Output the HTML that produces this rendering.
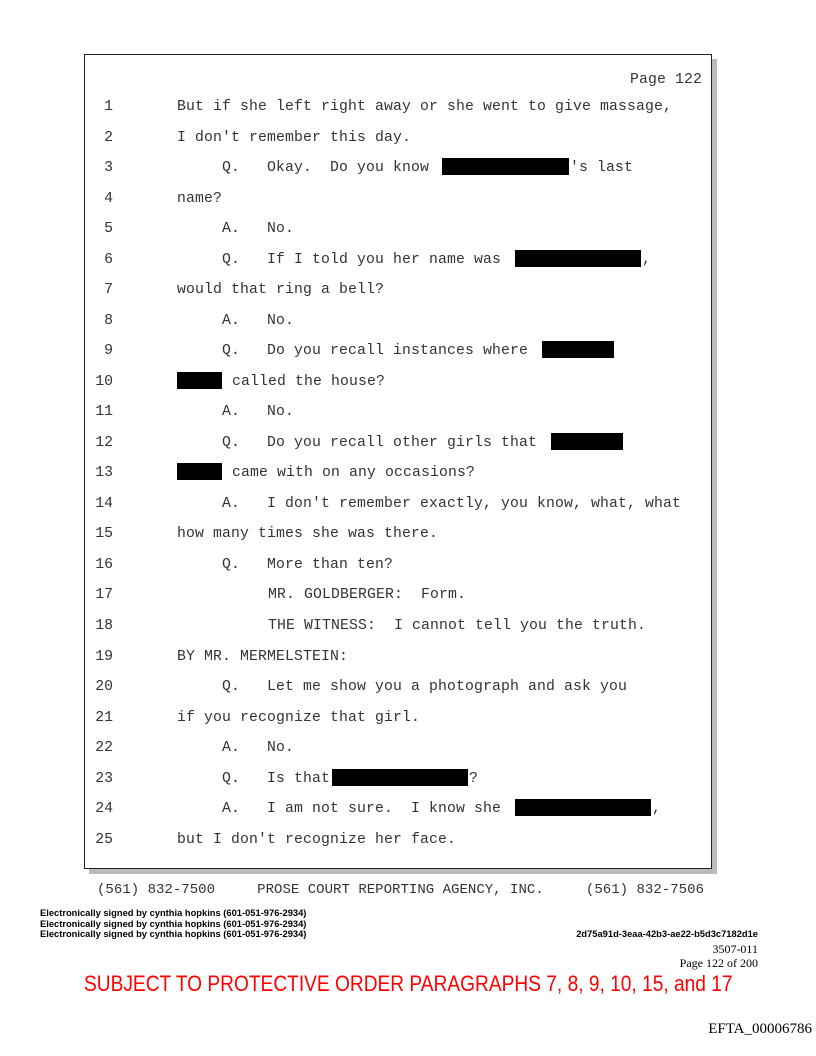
<!DOCTYPE html>
<html><head><meta charset="utf-8">
<style>
body{margin:0;width:816px;height:1056px;background:#fff;position:relative;overflow:hidden;font-family:"Liberation Mono",monospace;}
.box{position:absolute;left:84px;top:54px;width:626px;height:813px;border:1px solid #222;background:#fff;box-shadow:5px 5px 0 #bbb;}
.l{position:absolute;font-size:14.8px;letter-spacing:0.12px;line-height:20px;color:#333;white-space:pre;margin-top:1px;}
.n{position:absolute;width:28px;text-align:right;left:85px;font-size:14.8px;line-height:20px;color:#333;margin-top:1px;}
.r{position:absolute;background:#000;height:17px;}
.s{position:absolute;font-family:"Liberation Sans",sans-serif;font-weight:bold;font-size:9.35px;color:#000;left:40px;white-space:nowrap;}
</style></head><body>
<div class="box"></div>
<div class="l" style="left:630px;top:69px;">Page 122</div>

<div class="n" style="top:96px">1</div><div class="l" style="left:177px;top:96px">But if she left right away or she went to give massage,</div>
<div class="n" style="top:127px">2</div><div class="l" style="left:177px;top:127px">I don't remember this day.</div>
<div class="n" style="top:157px">3</div><div class="l" style="left:222px;top:157px">Q.   Okay.  Do you know</div><div class="l" style="left:570px;top:157px">'s last</div>
<div class="r" style="left:442px;top:158px;width:127px"></div>
<div class="n" style="top:188px">4</div><div class="l" style="left:177px;top:188px">name?</div>
<div class="n" style="top:218px">5</div><div class="l" style="left:222px;top:218px">A.   No.</div>
<div class="n" style="top:249px">6</div><div class="l" style="left:222px;top:249px">Q.   If I told you her name was</div><div class="l" style="left:642px;top:249px">,</div>
<div class="r" style="left:515px;top:250px;width:126px"></div>
<div class="n" style="top:279px">7</div><div class="l" style="left:177px;top:279px">would that ring a bell?</div>
<div class="n" style="top:310px">8</div><div class="l" style="left:222px;top:310px">A.   No.</div>
<div class="n" style="top:340px">9</div><div class="l" style="left:222px;top:340px">Q.   Do you recall instances where</div>
<div class="r" style="left:542px;top:341px;width:72px"></div>
<div class="n" style="top:371px">10</div><div class="l" style="left:232px;top:371px">called the house?</div>
<div class="r" style="left:177px;top:372px;width:45px"></div>
<div class="n" style="top:401px">11</div><div class="l" style="left:222px;top:401px">A.   No.</div>
<div class="n" style="top:432px">12</div><div class="l" style="left:222px;top:432px">Q.   Do you recall other girls that</div>
<div class="r" style="left:551px;top:433px;width:72px"></div>
<div class="n" style="top:462px">13</div><div class="l" style="left:232px;top:462px">came with on any occasions?</div>
<div class="r" style="left:177px;top:463px;width:45px"></div>
<div class="n" style="top:493px">14</div><div class="l" style="left:222px;top:493px">A.   I don't remember exactly, you know, what, what</div>
<div class="n" style="top:523px">15</div><div class="l" style="left:177px;top:523px">how many times she was there.</div>
<div class="n" style="top:554px">16</div><div class="l" style="left:222px;top:554px">Q.   More than ten?</div>
<div class="n" style="top:584px">17</div><div class="l" style="left:268px;top:584px">MR. GOLDBERGER:  Form.</div>
<div class="n" style="top:615px">18</div><div class="l" style="left:268px;top:615px">THE WITNESS:  I cannot tell you the truth.</div>
<div class="n" style="top:646px">19</div><div class="l" style="left:177px;top:646px">BY MR. MERMELSTEIN:</div>
<div class="n" style="top:676px">20</div><div class="l" style="left:222px;top:676px">Q.   Let me show you a photograph and ask you</div>
<div class="n" style="top:707px">21</div><div class="l" style="left:177px;top:707px">if you recognize that girl.</div>
<div class="n" style="top:737px">22</div><div class="l" style="left:222px;top:737px">A.   No.</div>
<div class="n" style="top:768px">23</div><div class="l" style="left:222px;top:768px">Q.   Is that</div><div class="l" style="left:469px;top:768px">?</div>
<div class="r" style="left:332px;top:769px;width:136px"></div>
<div class="n" style="top:798px">24</div><div class="l" style="left:222px;top:798px">A.   I am not sure.  I know she</div><div class="l" style="left:652px;top:798px">,</div>
<div class="r" style="left:515px;top:799px;width:136px"></div>
<div class="n" style="top:829px">25</div><div class="l" style="left:177px;top:829px">but I don't recognize her face.</div>

<div class="l" style="left:97px;top:879px;font-size:14.05px;letter-spacing:0;color:#333">(561) 832-7500     PROSE COURT REPORTING AGENCY, INC.     (561) 832-7506</div>

<div class="s" style="top:908px">Electronically signed by cynthia hopkins (601-051-976-2934)</div>
<div class="s" style="top:919px">Electronically signed by cynthia hopkins (601-051-976-2934)</div>
<div class="s" style="top:929px">Electronically signed by cynthia hopkins (601-051-976-2934)</div>
<div class="s" style="left:auto;right:58px;top:929px">2d75a91d-3eaa-42b3-ae22-b5d3c7182d1e</div>
<div style="position:absolute;right:58px;top:942px;font-family:'Liberation Serif',serif;font-size:12px;">3507-011</div>
<div style="position:absolute;right:58px;top:956px;font-family:'Liberation Serif',serif;font-size:12px;">Page 122 of 200</div>
<div style="position:absolute;left:84px;top:971px;width:650px;font-family:'Liberation Sans',sans-serif;font-size:22px;color:#f00;white-space:nowrap;transform:scaleX(0.87);transform-origin:left top;">SUBJECT TO PROTECTIVE ORDER PARAGRAPHS 7, 8, 9, 10, 15, and 17</div>
<div style="position:absolute;right:4px;top:1021px;font-family:'Liberation Serif',serif;font-size:15px;">EFTA_00006786</div>
</body></html>
